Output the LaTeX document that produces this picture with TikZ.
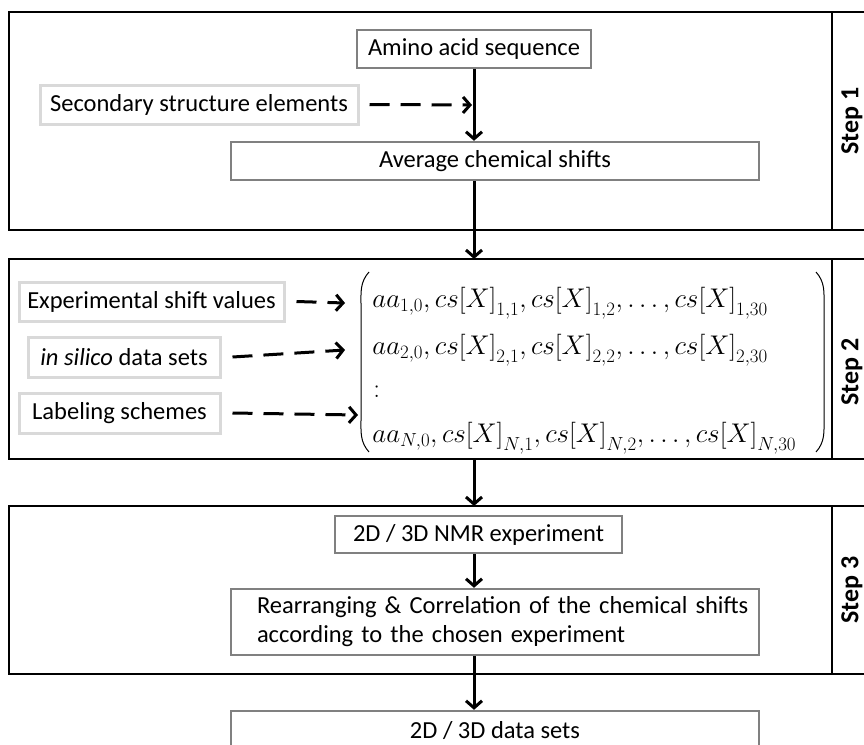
\documentclass[tikz,border=0pt]{standalone}
\usepackage{fix-cm}
\usepackage{fontspec}
\setmainfont{Carlito}
\usetikzlibrary{arrows.meta}

\tikzset{every picture/.style={line width=0.75pt}}
\tikzset{
  panel/.style={draw=black, line width=2.2pt},
  stepbox/.style={draw={rgb,255:red,128;green,128;blue,128}, line width=2.4pt, fill=white, inner sep=0pt, font=\fontsize{24.5}{29}\selectfont},
  inputbox/.style={draw={rgb,255:red,217;green,217;blue,217}, line width=3pt, fill=white, inner sep=0pt, font=\fontsize{24.5}{29}\selectfont},
  steplabel/.style={rotate=90, inner sep=0pt, font=\fontsize{26}{30}\selectfont\bfseries},
  mrow/.style={anchor=west, inner sep=0pt, font=\fontsize{27}{31}\selectfont},
  flow/.style={line width=3pt, -{Straight Barb[length=7pt,width=16pt,line width=3pt]}},
  feed/.style={flow, dash pattern=on 20pt off 11pt}
}

\begin{document}
\begin{tikzpicture}[x=1pt,y=1pt,yscale=-1,xscale=1]
    \useasboundingbox (0,0) rectangle (864,744);
    %Shape: Rectangle [id:panel1] 
    \draw [panel] (9,12) rectangle (890,230) ;
    \draw [panel] (832,12) -- (832,230) ;
    %Shape: Rectangle [id:panel2] 
    \draw [panel] (9,259) rectangle (890,459) ;
    \draw [panel] (832,259) -- (832,459) ;
    %Shape: Rectangle [id:panel3] 
    \draw [panel] (9,506) rectangle (890,674) ;
    \draw [panel] (832,506) -- (832,674) ;
    % Text Node
    \node [steplabel] (step1) at (852,121) {Step 1};
    \node [steplabel] (step2) at (852,372) {Step 2};
    \node [steplabel] (step3) at (852,590) {Step 3};
    % Step 1
    \node [stepbox, minimum width=234, minimum height=38] (amino) at (474,49) {Amino acid sequence};
    \node [inputbox, minimum width=318, minimum height=39] (secstr) at (199,104.5) {Secondary structure elements};
    \node [stepbox, minimum width=528, minimum height=38] (avg) at (495,161) {Average chemical shifts};
    \coordinate (p2top) at (474,259);
    \coordinate (p2bot) at (474,459);
    \coordinate (p3top) at (474,506);
    \coordinate (join) at (472,105);
    \draw [flow] (amino.south) -- (amino.south |- avg.north) ;
    \draw [feed] ([xshift=10]secstr.east) -- (join) ;
    \draw [flow] (avg.south -| amino) -- (p2top) ;
    % Step 2
    \node [inputbox, minimum width=265, minimum height=39] (expt) at (151.5,301.5) {Experimental shift values};
    \node [inputbox, minimum width=192, minimum height=40] (silico) at (124,357) {\textit{in silico} data sets};
    \node [inputbox, minimum width=201, minimum height=40] (label) at (119.5,413) {Labeling schemes};
    \node [mrow] (row1) at (372,303) {$aa_{1,0},cs\Bigl[X\Bigr]_{1,1},cs\Bigl[X\Bigr]_{1,2},\ldots,cs\Bigl[X\Bigr]_{1,30}$};
    \node [mrow] (row2) at (372,350) {$aa_{2,0},cs\Bigl[X\Bigr]_{2,1},cs\Bigl[X\Bigr]_{2,2},\ldots,cs\Bigl[X\Bigr]_{2,30}$};
    \node [mrow] (rowdots) at (373,392) {$:$};
    \node [mrow] (rowN) at (372,438) {$aa_{N,0},cs\Bigl[X\Bigr]_{N,1},cs\Bigl[X\Bigr]_{N,2},\ldots,cs\Bigl[X\Bigr]_{N,30}$};
    %Shape: Parentheses 
    \draw [line width=1pt] (369,272) .. controls (360,282) and (361,292) .. (361,304) -- (361,420) .. controls (361,432) and (360,442) .. (369,452) ;
    \draw [line width=1pt] (816,272) .. controls (825,282) and (824,292) .. (824,304) -- (824,420) .. controls (824,432) and (825,442) .. (816,452) ;
    \draw [feed] ([xshift=11]expt.east) -- (345,303) ;
    \draw [feed] ([xshift=11]silico.east) -- (345,350) ;
    \draw [feed] ([xshift=11]label.east) -- (358,415) ;
    \draw [flow] (p2bot) -- (p3top) ;
    % Step 3
    \node [stepbox, minimum width=287, minimum height=37] (nmr) at (478.5,534.5) {2D / 3D NMR experiment};
    \node [stepbox, minimum width=528, minimum height=66, align=left, text width=494] (rearr) at (495,622) {\hspace*{9pt}\mbox{Rearranging \& Correlation of the chemical shifts}\\\hspace*{9pt}\mbox{according to the chosen experiment}};
    \node [stepbox, minimum width=528, minimum height=40] (data) at (495,731) {2D / 3D data sets};
    \draw [flow] (nmr.south -| p3top) -- (rearr.north -| p3top) ;
    \draw [flow] (rearr.south -| p3top) -- (data.north -| p3top) ;
\end{tikzpicture}
\end{document}
